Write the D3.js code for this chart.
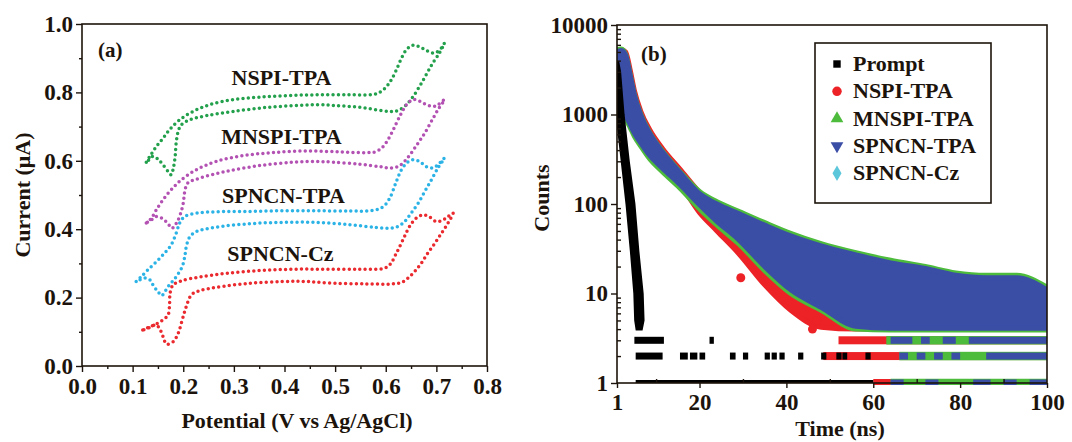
<!DOCTYPE html>
<html><head><meta charset="utf-8">
<script src="https://cdn.jsdelivr.net/npm/d3@7/dist/d3.min.js"></script>
<style>
body{margin:0;background:#fff}
svg text{font-family:"Liberation Serif","Times New Roman",serif;font-weight:bold;fill:#1c140c}
</style></head>
<body><svg id="chart" width="1072" height="442"></svg>
<script>
// ---------------- Panel (a): cyclic voltammetry ----------------
const cvNames = ["NSPI-TPA","MNSPI-TPA","SPNCN-TPA","SPNCN-Cz"];
const cvNSPI = [[0.127,0.596],[0.137,0.620],[0.147,0.642],[0.160,0.666],[0.173,0.691],[0.193,0.720],[0.219,0.744],[0.252,0.764],[0.298,0.779],[0.351,0.786],[0.410,0.791],[0.469,0.793],[0.529,0.793],[0.575,0.794],[0.588,0.800],[0.601,0.816],[0.611,0.837],[0.621,0.866],[0.631,0.900],[0.641,0.925],[0.654,0.938],[0.667,0.933],[0.680,0.923],[0.693,0.915],[0.700,0.917],[0.710,0.930],[0.716,0.944],
 [0.706,0.915],[0.693,0.886],[0.680,0.852],[0.667,0.818],[0.654,0.788],[0.641,0.764],[0.627,0.749],[0.614,0.744],[0.595,0.746],[0.562,0.754],[0.529,0.759],[0.496,0.762],[0.469,0.764],[0.430,0.762],[0.364,0.756],[0.298,0.744],[0.246,0.732],[0.213,0.720],[0.196,0.705],[0.190,0.686],[0.186,0.652],[0.184,0.613],[0.181,0.583],[0.176,0.559],[0.170,0.569],[0.160,0.588],[0.150,0.605],[0.140,0.613],[0.134,0.605],[0.127,0.596]];
const cvMNSPI = [[0.127,0.418],[0.137,0.432],[0.147,0.457],[0.160,0.486],[0.176,0.515],[0.196,0.544],[0.226,0.574],[0.265,0.598],[0.318,0.615],[0.377,0.624],[0.443,0.629],[0.509,0.626],[0.562,0.624],[0.581,0.627],[0.595,0.642],[0.608,0.671],[0.621,0.710],[0.631,0.740],[0.641,0.764],[0.654,0.779],[0.667,0.774],[0.680,0.764],[0.693,0.759],[0.703,0.764],[0.716,0.779],
 [0.703,0.749],[0.690,0.715],[0.677,0.681],[0.664,0.652],[0.650,0.622],[0.637,0.598],[0.624,0.583],[0.608,0.579],[0.588,0.583],[0.548,0.590],[0.496,0.596],[0.463,0.598],[0.417,0.596],[0.351,0.586],[0.285,0.569],[0.232,0.549],[0.209,0.535],[0.203,0.510],[0.200,0.476],[0.195,0.447],[0.188,0.422],[0.178,0.403],[0.170,0.416],[0.160,0.430],[0.147,0.437],[0.137,0.427],[0.127,0.418]];
const cvSPNCNTPA = [[0.107,0.247],[0.117,0.261],[0.130,0.281],[0.147,0.305],[0.163,0.330],[0.176,0.354],[0.186,0.388],[0.193,0.418],[0.203,0.437],[0.226,0.447],[0.265,0.451],[0.331,0.452],[0.397,0.454],[0.463,0.454],[0.529,0.453],[0.575,0.455],[0.595,0.466],[0.608,0.491],[0.621,0.540],[0.631,0.574],[0.641,0.593],[0.654,0.603],[0.667,0.598],[0.680,0.583],[0.693,0.579],[0.706,0.593],[0.716,0.608],
 [0.703,0.579],[0.690,0.544],[0.677,0.510],[0.664,0.476],[0.650,0.447],[0.637,0.422],[0.624,0.408],[0.608,0.403],[0.581,0.405],[0.529,0.413],[0.463,0.420],[0.397,0.420],[0.331,0.416],[0.265,0.406],[0.226,0.393],[0.213,0.378],[0.206,0.349],[0.203,0.320],[0.198,0.291],[0.186,0.261],[0.170,0.232],[0.157,0.206],[0.150,0.218],[0.142,0.232],[0.134,0.252],[0.124,0.257],[0.114,0.252],[0.107,0.247]];
const cvSPNCNCz = [[0.120,0.105],[0.134,0.115],[0.147,0.123],[0.160,0.135],[0.170,0.149],[0.173,0.183],[0.174,0.213],[0.180,0.237],[0.196,0.249],[0.232,0.260],[0.285,0.271],[0.351,0.279],[0.417,0.283],[0.483,0.283],[0.548,0.283],[0.595,0.285],[0.608,0.296],[0.621,0.330],[0.634,0.369],[0.647,0.408],[0.660,0.432],[0.674,0.442],[0.687,0.435],[0.700,0.422],[0.713,0.427],[0.723,0.437],[0.733,0.447],
 [0.723,0.418],[0.710,0.388],[0.697,0.359],[0.683,0.330],[0.670,0.300],[0.657,0.276],[0.644,0.257],[0.631,0.244],[0.614,0.240],[0.562,0.240],[0.496,0.242],[0.443,0.247],[0.397,0.247],[0.331,0.242],[0.265,0.230],[0.232,0.220],[0.216,0.208],[0.206,0.174],[0.198,0.135],[0.190,0.096],[0.180,0.071],[0.167,0.064],[0.160,0.086],[0.153,0.110],[0.146,0.120],[0.134,0.113],[0.120,0.105]];
const cvLabelV = [0.394,0.394,0.398,0.392];
const cvLabelI = [0.822,0.650,0.477,0.307];
const xTicksA = [0,0.1,0.2,0.3,0.4,0.5,0.6,0.7,0.8];
const xMinorA = [0.05,0.15,0.25,0.35,0.45,0.55,0.65,0.75];
const yTicksA = [0,0.2,0.4,0.6,0.8,1.0];
const yMinorA = [0.1,0.3,0.5,0.7,0.9];

// ---------------- Panel (b): PL decay ----------------
const decayNames = ["Prompt","NSPI-TPA","MNSPI-TPA","SPNCN-TPA","SPNCN-Cz"];
const promptCounts = [3800,3000,1000,300,100,30,10,5,4];
const promptLeftT  = [1.0,1.0,1.0,2.2,3.3,4.3,5.1,5.3,5.6];
const promptRightT = [1.2,1.6,2.4,3.6,4.9,5.8,6.8,7.0,6.6];
const promptRows = [[3,5.0,11.8],[3,22.3,23.3],[2,5.3,11.5],[2,15.5,17.3],[2,17.8,19.5],[2,20.0,21.3],[2,27.0,28.3],[2,30.0,31.2],[2,35.0,36.2],[2,36.6,37.8],[2,38.4,39.6],[2,42.7,43.9],[2,48.0,49.2],[2,51.5,52.7],[2,52.9,54.0],[2,58.2,59.4]];
const promptBase = [5.3,60];
const decayT = [1,2,3,4,5,6.5,8.5,11.5,15.5,20,24,29,35,41,48,56,64,72,79,86,93,100];
const nspiUpper  = [4800,5300,5000,3200,1850,1080,680,415,245,135,85,50,28,17,11,8.5,7,6,5.5,5.5,5,5];
const nspiLower  = [1100,1100,1000,820,650,500,365,255,165,80,50,28,12.5,6.5,4.2,4,4,4,4,4,4,4];
const mnspiUpper = [5300,5400,4700,2850,1680,1000,630,388,230,138,106,83,62,47,36,28.5,23.5,20,17,16,16,11.8];
const mnspiLower = [900,950,880,720,570,440,320,228,150,88,58,36,18,10,6.5,4.0,3.9,3.9,3.9,3.9,3.9,3.9];
const spncnUpper = [5000,5200,4600,2800,1650,980,620,380,225,130,100,78,58,44,34,27,22,19,16,15,15,11];
const spncnLower = [1000,1050,960,780,620,480,350,250,165,98,64,40,20,11,7,4.3,4.1,4.1,4.1,4.1,4.1,4.1];
const nspiRows  = [[3,52,100],[2,48.5,100],[1,60,100]];
const mnspiRows = [[3,63,100],[2,66,100],[1,64,100]];
const spncnRows = [[3,64,69],[3,71,73],[3,76,79],[3,82,100],[2,66,68],[2,70,72],[2,74,76],[2,78,80],[2,86,100],[1,64,67],[1,72,75],[1,83,87],[1,90,93],[1,96,100]];
const nspiStray = [[29.5,15],[46,4],[47,5]];
const xTicksB = [1,20,40,60,80,100];
const xMinorB = [10,30,50,70,90];
const yTicksB = [1,10,100,1000,10000];

const cvColors = ["#23a04c","#b352b3","#2cb3e6","#ea2a2e"];
const decayColors = ["#000000","#ec2227","#4dbb3c","#3b4ea6","#5cc6da"];
const ink = "#1c140c";

const svg = d3.select("#chart");

// ===== Panel A =====
const ax = d3.scaleLinear().domain([0,0.8]).range([82,487]);
const ay = d3.scaleLinear().domain([0,1]).range([366,24]);

function styleAxis(g){
  g.select(".domain").remove();
  g.selectAll("line").attr("stroke",ink).attr("stroke-width",1.4);
  g.selectAll("text").style("font-size","23px").attr("fill",ink);
}
svg.append("g").attr("transform","translate(0,366)")
  .call(d3.axisBottom(ax).tickValues(xTicksA).tickFormat(d3.format(".1f")).tickSize(6).tickPadding(6)).call(styleAxis);
svg.append("g").attr("transform","translate(0,366)")
  .call(d3.axisBottom(ax).tickValues(xMinorA).tickFormat("").tickSize(3)).call(styleAxis);
svg.append("g").attr("transform","translate(82,0)")
  .call(d3.axisLeft(ay).tickValues(yTicksA).tickFormat(d3.format(".1f")).tickSize(6).tickPadding(3)).call(styleAxis);
svg.append("g").attr("transform","translate(82,0)")
  .call(d3.axisLeft(ay).tickValues(yMinorA).tickFormat("").tickSize(3)).call(styleAxis);
svg.append("rect").attr("x",82).attr("y",24).attr("width",405).attr("height",342)
  .attr("fill","none").attr("stroke",ink).attr("stroke-width",1.6);

const cvLine = d3.line().x(d=>ax(d[0])).y(d=>ay(d[1])).curve(d3.curveCatmullRom.alpha(0.5));
[cvNSPI,cvMNSPI,cvSPNCNTPA,cvSPNCNCz].forEach((s,i)=>{
  svg.append("path").attr("d",cvLine(s)).attr("fill","none")
    .attr("stroke",cvColors[i]).attr("stroke-width",3.5)
    .attr("stroke-linecap","round").attr("stroke-dasharray","0 5.3");
});
cvNames.forEach((n,i)=>{
  svg.append("text").attr("x",ax(cvLabelV[i])).attr("y",ay(cvLabelI[i]))
    .attr("text-anchor","middle").style("font-size","22px").text(n);
});
svg.append("text").attr("x",98).attr("y",57).style("font-size","21px").text("(a)");
svg.append("text").attr("x",297).attr("y",428).attr("text-anchor","middle").style("font-size","22px").text("Potential (V vs Ag/AgCl)");
svg.append("text").attr("transform","translate(30,195) rotate(-90)").attr("text-anchor","middle").style("font-size","22px").text("Current (μA)");

// ===== Panel B =====
const bx = d3.scaleLinear().domain([1,100]).range([617,1047]);
const by = d3.scaleLog().domain([1,10000]).range([383,25]);

svg.append("defs").append("clipPath").attr("id","clipB").append("rect")
  .attr("x",617).attr("y",25).attr("width",430).attr("height",360);
const plotB = svg.append("g").attr("clip-path","url(#clipB)");

const band = (up,lo)=> d3.area().x(d=>bx(d)).y0((d,i)=>by(lo[i])).y1((d,i)=>by(up[i])).curve(d3.curveMonotoneX);
function drawBand(up,lo,color){
  plotB.append("path").attr("d",band(up,lo)(decayT)).attr("fill",color)
    .attr("stroke",color).attr("stroke-width",5).attr("stroke-linejoin","round");
}
function drawRows(rows,color,h){
  plotB.selectAll(null).data(rows).join("rect")
    .attr("x",d=>bx(d[1])).attr("width",d=>bx(d[2])-bx(d[1]))
    .attr("y",d=>by(d[0])-h/2).attr("height",h).attr("fill",color);
}
drawBand(nspiUpper,nspiLower,decayColors[1]);
drawBand(mnspiUpper,mnspiLower,decayColors[2]);
drawBand(spncnUpper,spncnLower,decayColors[3]);
drawRows(nspiRows,decayColors[1],8);
drawRows(mnspiRows,decayColors[2],8.5);
drawRows(spncnRows,decayColors[3],7);
plotB.selectAll(null).data(nspiStray).join("circle")
  .attr("cx",d=>bx(d[0])).attr("cy",d=>by(d[1])).attr("r",4.5).attr("fill",decayColors[1]);

// prompt
const promptArea = d3.area().y(d=>by(d)).x0((d,i)=>bx(promptLeftT[i])).x1((d,i)=>bx(promptRightT[i]));
plotB.append("path").attr("d",promptArea(promptCounts)).attr("fill","#000").attr("stroke","#000").attr("stroke-width",3);
drawRows(promptRows,"#000",7);
plotB.append("rect").attr("x",bx(promptBase[0])).attr("width",bx(promptBase[1])-bx(promptBase[0]))
  .attr("y",by(1)-3).attr("height",3).attr("fill","#000");

// axes B
svg.append("g").attr("transform","translate(0,383)")
  .call(d3.axisBottom(bx).tickValues(xTicksB).tickFormat(d3.format("d")).tickSize(5).tickPadding(6)).call(styleAxis);
svg.append("g").attr("transform","translate(0,383)")
  .call(d3.axisBottom(bx).tickValues(xMinorB).tickFormat("").tickSize(-4)).call(styleAxis);
svg.append("g").attr("transform","translate(617,0)")
  .call(d3.axisLeft(by).tickValues(yTicksB).tickFormat(d3.format("d")).tickSize(6).tickPadding(3)).call(styleAxis);
const yMinorB = [];
[1,10,100,1000].forEach(p=>{for(let k=2;k<=9;k++) yMinorB.push(p*k);});
svg.append("g").attr("transform","translate(617,0)")
  .call(d3.axisLeft(by).tickValues(yMinorB).tickFormat("").tickSize(-4)).call(styleAxis);
svg.append("rect").attr("x",617).attr("y",25).attr("width",430).attr("height",358)
  .attr("fill","none").attr("stroke",ink).attr("stroke-width",1.6);

svg.append("text").attr("x",641).attr("y",61).style("font-size","21px").text("(b)");
svg.append("text").attr("x",840).attr("y",436).attr("text-anchor","middle").style("font-size","22px").text("Time (ns)");
svg.append("text").attr("transform","translate(549,198) rotate(-90)").attr("text-anchor","middle").style("font-size","22px").text("Counts");

// legend
svg.append("rect").attr("x",815).attr("y",43).attr("width",176).attr("height",160)
  .attr("fill","#fff").attr("stroke",ink).attr("stroke-width",1.6);
const symTypes = [d3.symbolSquare,d3.symbolCircle,d3.symbolTriangle,d3.symbolTriangle,d3.symbolDiamond];
decayNames.forEach((n,i)=>{
  const yb = 71 + i*27.3;
  const rot = i===3 ? 180 : 0;
  svg.append("path").attr("d",d3.symbol().type(symTypes[i]).size(i===0?55:70)())
    .attr("transform",`translate(837,${yb-7}) rotate(${rot})`).attr("fill",decayColors[i]);
  svg.append("text").attr("x",853).attr("y",yb).style("font-size","22px").text(n);
});
</script></body></html>
